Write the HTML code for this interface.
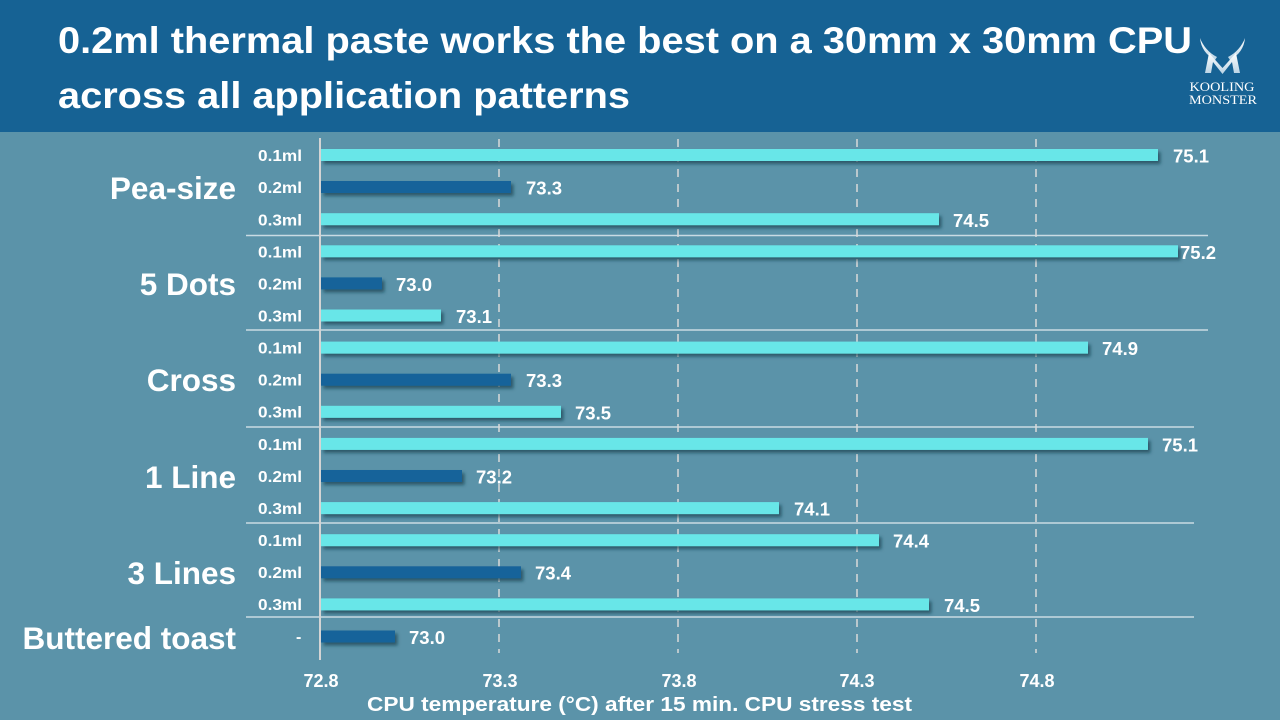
<!DOCTYPE html>
<html>
<head>
<meta charset="utf-8">
<style>
  html, body { margin:0; padding:0; background:#5b93a9; }
  svg { display:block; }
  .b { font-family:"Liberation Sans", Arial, sans-serif; font-weight:bold; fill:#ffffff; }
</style>
</head>
<body>
<svg width="1280" height="720" viewBox="0 0 1280 720" xmlns="http://www.w3.org/2000/svg">
  <defs>
    <filter id="sh" x="-5%" y="-60%" width="110%" height="260%">
      <feDropShadow dx="2.5" dy="3" stdDeviation="1.6" flood-color="#163848" flood-opacity="0.65"/>
    </filter>
    <linearGradient id="lg" x1="0" y1="0" x2="0" y2="1">
      <stop offset="0" stop-color="#ffffff"/>
      <stop offset="1" stop-color="#b9d3e4"/>
    </linearGradient>
  </defs>

  <!-- background -->
  <rect x="0" y="0" width="1280" height="720" fill="#5b93a9"/>
  <rect x="0" y="0" width="1280" height="132" fill="#166294"/>

  <!-- title -->
  <text class="b" x="58" y="53" font-size="37" textLength="1134" lengthAdjust="spacingAndGlyphs">0.2ml thermal paste works the best on a 30mm x 30mm CPU</text>
  <text class="b" x="58" y="108" font-size="37" textLength="572" lengthAdjust="spacingAndGlyphs">across all application patterns</text>

  <!-- logo -->
  <g fill="url(#lg)">
    <path d="M1200,38 C1201,48 1206,55 1215,60 L1217,57 C1209,53 1203,46 1200,38 Z"/>
    <path d="M1245,38 C1244,48 1239,55 1230,60 L1228,57 C1236,53 1242,46 1245,38 Z"/>
    <polygon points="1205,73 1209,53 1222.5,68 1236,53 1240,73 1234,73 1232,62 1222.5,74 1213,62 1211,73"/>
  </g>
  <text x="1222" y="91" font-family="'Liberation Serif', serif" font-size="13" fill="#ffffff" text-anchor="middle" textLength="65" lengthAdjust="spacingAndGlyphs">KOOLING</text>
  <text x="1223" y="104" font-family="'Liberation Serif', serif" font-size="13" fill="#ffffff" text-anchor="middle" textLength="68" lengthAdjust="spacingAndGlyphs">MONSTER</text>

  <!-- separators -->
  <g stroke="#c9dbe3" stroke-width="1.5">
    <line x1="246" y1="235.5" x2="1208" y2="235.5"/>
    <line x1="246" y1="330" x2="1208" y2="330"/>
    <line x1="246" y1="427" x2="1194" y2="427"/>
    <line x1="246" y1="523" x2="1194" y2="523"/>
    <line x1="246" y1="617" x2="1194" y2="617"/>
  </g>

  <!-- category labels -->
  <g class="b" font-size="31.5" text-anchor="end">
    <text class="b" x="236" y="199">Pea-size</text>
    <text class="b" x="236" y="295">5 Dots</text>
    <text class="b" x="236" y="391">Cross</text>
    <text class="b" x="236" y="488">1 Line</text>
    <text class="b" x="236" y="584">3 Lines</text>
    <text class="b" x="236" y="649">Buttered toast</text>
  </g>

  <!-- row labels -->
  <g class="b" font-size="16">
    <text class="b" x="258" y="161" textLength="44" lengthAdjust="spacingAndGlyphs">0.1ml</text>
    <text class="b" x="258" y="193" textLength="44" lengthAdjust="spacingAndGlyphs">0.2ml</text>
    <text class="b" x="258" y="225.5" textLength="44" lengthAdjust="spacingAndGlyphs">0.3ml</text>
    <text class="b" x="258" y="257.5" textLength="44" lengthAdjust="spacingAndGlyphs">0.1ml</text>
    <text class="b" x="258" y="289.5" textLength="44" lengthAdjust="spacingAndGlyphs">0.2ml</text>
    <text class="b" x="258" y="321.5" textLength="44" lengthAdjust="spacingAndGlyphs">0.3ml</text>
    <text class="b" x="258" y="353.5" textLength="44" lengthAdjust="spacingAndGlyphs">0.1ml</text>
    <text class="b" x="258" y="385.5" textLength="44" lengthAdjust="spacingAndGlyphs">0.2ml</text>
    <text class="b" x="258" y="417.5" textLength="44" lengthAdjust="spacingAndGlyphs">0.3ml</text>
    <text class="b" x="258" y="450" textLength="44" lengthAdjust="spacingAndGlyphs">0.1ml</text>
    <text class="b" x="258" y="482" textLength="44" lengthAdjust="spacingAndGlyphs">0.2ml</text>
    <text class="b" x="258" y="514" textLength="44" lengthAdjust="spacingAndGlyphs">0.3ml</text>
    <text class="b" x="258" y="546" textLength="44" lengthAdjust="spacingAndGlyphs">0.1ml</text>
    <text class="b" x="258" y="578" textLength="44" lengthAdjust="spacingAndGlyphs">0.2ml</text>
    <text class="b" x="258" y="610" textLength="44" lengthAdjust="spacingAndGlyphs">0.3ml</text>
    <text class="b" x="296" y="642">-</text>
  </g>

  <!-- value labels -->
  <g class="b" font-size="18.5">
    <text class="b" x="1173" y="162.5">75.1</text>
    <text class="b" x="526" y="194.5">73.3</text>
    <text class="b" x="953" y="227">74.5</text>
    <text class="b" x="1180" y="259">75.2</text>
    <text class="b" x="396" y="291">73.0</text>
    <text class="b" x="456" y="323">73.1</text>
    <text class="b" x="1102" y="355">74.9</text>
    <text class="b" x="526" y="387">73.3</text>
    <text class="b" x="575" y="419.5">73.5</text>
    <text class="b" x="1162" y="451.5">75.1</text>
    <text class="b" x="476" y="483.5">73.2</text>
    <text class="b" x="794" y="515.5">74.1</text>
    <text class="b" x="893" y="547.5">74.4</text>
    <text class="b" x="535" y="579.5">73.4</text>
    <text class="b" x="944" y="612">74.5</text>
    <text class="b" x="409" y="644">73.0</text>
  </g>

  <!-- gridlines -->
  <g stroke="#d9d9d9" stroke-width="1.5" stroke-dasharray="8,7">
    <line x1="499" y1="139" x2="499" y2="653"/>
    <line x1="678" y1="139" x2="678" y2="653"/>
    <line x1="857" y1="139" x2="857" y2="653"/>
    <line x1="1036" y1="139" x2="1036" y2="653"/>
  </g>

  <!-- bars -->
  <g filter="url(#sh)">
    <rect x="321" y="149" width="837" height="12" fill="#68e6e8"/>
    <rect x="321" y="181" width="190" height="12" fill="#15639a"/>
    <rect x="321" y="213.2" width="618" height="12" fill="#68e6e8"/>
    <rect x="321" y="245.3" width="857" height="12" fill="#68e6e8"/>
    <rect x="321" y="277.4" width="61" height="12" fill="#15639a"/>
    <rect x="321" y="309.5" width="120" height="12" fill="#68e6e8"/>
    <rect x="321" y="341.6" width="767" height="12" fill="#68e6e8"/>
    <rect x="321" y="373.7" width="190" height="12" fill="#15639a"/>
    <rect x="321" y="405.8" width="240" height="12" fill="#68e6e8"/>
    <rect x="321" y="437.9" width="827" height="12" fill="#68e6e8"/>
    <rect x="321" y="470" width="141" height="12" fill="#15639a"/>
    <rect x="321" y="502.1" width="458" height="12" fill="#68e6e8"/>
    <rect x="321" y="534.2" width="558" height="12" fill="#68e6e8"/>
    <rect x="321" y="566.3" width="200" height="12" fill="#15639a"/>
    <rect x="321" y="598.4" width="608" height="12" fill="#68e6e8"/>
    <rect x="321" y="630.5" width="74" height="12" fill="#15639a"/>
  </g>

  <!-- axis line -->
  <line x1="320" y1="138" x2="320" y2="660" stroke="#d4d4d4" stroke-width="2"/>

  <!-- tick labels -->
  <g class="b" font-size="18" text-anchor="middle">
    <text class="b" x="321" y="687">72.8</text>
    <text class="b" x="500" y="687">73.3</text>
    <text class="b" x="679" y="687">73.8</text>
    <text class="b" x="857" y="687">74.3</text>
    <text class="b" x="1037" y="687">74.8</text>
  </g>

  <!-- axis title -->
  <text class="b" x="367" y="711" font-size="20.5" textLength="545" lengthAdjust="spacingAndGlyphs">CPU temperature (°C) after 15 min. CPU stress test</text>
</svg>
</body>
</html>
